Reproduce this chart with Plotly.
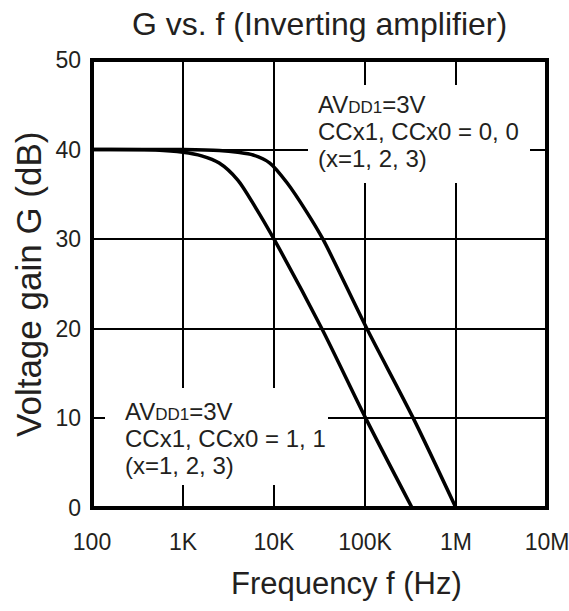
import plotly.graph_objects as go

# Frequency response of the inverting amplifier, AVDD1 = 3 V
freq_cc00 = [100, 1000, 2500, 4000, 5900, 9000, 13900, 23000, 34500, 105000, 340000, 1000000]
gain_cc00 = [40.0, 40.0, 39.9, 39.7, 39.4, 38.5, 36.3, 33.0, 30.0, 20.0, 10.0, 0.0]

freq_cc11 = [100, 500, 1000, 1600, 2500, 4000, 6300, 10000, 33600, 102000, 330000]
gain_cc11 = [40.0, 39.95, 39.7, 39.3, 38.5, 36.6, 33.5, 30.0, 20.0, 10.0, 0.0]

x_tickvals = [100, 1e3, 1e4, 1e5, 1e6, 1e7]
x_ticktext = ["100", "1K", "10K", "100K", "1M", "10M"]
y_tickvals = [0, 10, 20, 30, 40, 50]

label_cc00 = ["AV<span style=\"font-size:17px\">DD1</span>=3V",
              "CCx1, CCx0 = 0, 0",
              "(x=1, 2, 3)"]
label_cc11 = ["AV<span style=\"font-size:17px\">DD1</span>=3V",
              "CCx1, CCx0 = 1, 1",
              "(x=1, 2, 3)"]

FONT = "Liberation Sans, Arial, sans-serif"
TXT = "#231f20"

fig = go.Figure()
for fx, gy in [(freq_cc00, gain_cc00), (freq_cc11, gain_cc11)]:
    fig.add_trace(go.Scatter(
        x=fx, y=gy, mode="lines",
        line=dict(color="black", width=3.5, shape="spline", smoothing=0.8),
        showlegend=False, hoverinfo="skip"))

W, H = 569, 611
L, R, T, B = 92, 22, 60, 103
pw, ph = W - L - R, H - T - B

def px_x(p):
    return (p - L) / pw

def px_y(p):
    return (H - B - p) / ph

shapes = []
# white panels behind the two label blocks (break the grid lines)
for x0, x1, y0, y1 in [(308, 530, 85, 183), (105, 328, 388, 485)]:
    shapes.append(dict(type="rect", xref="paper", yref="paper",
                       x0=px_x(x0), x1=px_x(x1), y0=px_y(y1), y1=px_y(y0),
                       fillcolor="white", line=dict(width=0), layer="above"))
# heavy frame around the plotting area
shapes.append(dict(type="rect", xref="paper", yref="paper", x0=0, x1=1, y0=0, y1=1,
                   line=dict(color="black", width=4), fillcolor="rgba(0,0,0,0)",
                   layer="above"))

annotations = []
for lines, x_left, ys in [(label_cc00, 316, [104, 131, 158]),
                          (label_cc11, 123, [411, 438, 465])]:
    for txt, yc in zip(lines, ys):
        annotations.append(dict(
            text=txt, xref="paper", yref="paper", x=px_x(x_left), y=px_y(yc),
            xanchor="left", yanchor="middle", showarrow=False,
            font=dict(family=FONT, size=24, color=TXT)))

# axis titles
annotations.append(dict(
    text="Frequency f (Hz)", xref="paper", yref="paper",
    x=px_x(346), y=px_y(583), xanchor="center", yanchor="middle",
    showarrow=False, font=dict(family=FONT, size=31, color=TXT)))
annotations.append(dict(
    text="Voltage gain G (dB)", xref="paper", yref="paper",
    x=px_x(28), y=px_y(285), xanchor="center", yanchor="middle", textangle=-90,
    showarrow=False, font=dict(family=FONT, size=35, color=TXT)))

fig.update_layout(
    width=W, height=H,
    margin=dict(l=L, r=R, t=T, b=B, autoexpand=False),
    paper_bgcolor="white", plot_bgcolor="white",
    font=dict(family=FONT, color=TXT),
    title=dict(text="G vs. f (Inverting amplifier)", x=(L + pw / 2) / W, xanchor="center",
               y=1 - 24 / H, yanchor="middle", yref="container",
               font=dict(family=FONT, size=32, color=TXT)),
    shapes=shapes,
    annotations=annotations,
)
fig.update_xaxes(
    type="log", range=[1.99999, 7.00001], tickvals=x_tickvals, ticktext=x_ticktext,
    showgrid=True, gridcolor="black", gridwidth=2, zeroline=False,
    showline=False, ticks="", ticklabelstandoff=18, ticklabeloverflow="allow",
    automargin=False,
    tickfont=dict(family=FONT, size=23, color=TXT))
fig.update_yaxes(
    range=[0, 50], tickvals=y_tickvals, automargin=False,
    showgrid=True, gridcolor="black", gridwidth=2, zeroline=False,
    showline=False, ticks="", ticklabelstandoff=10,
    tickfont=dict(family=FONT, size=23, color=TXT))

fig.write_html("out.html")
